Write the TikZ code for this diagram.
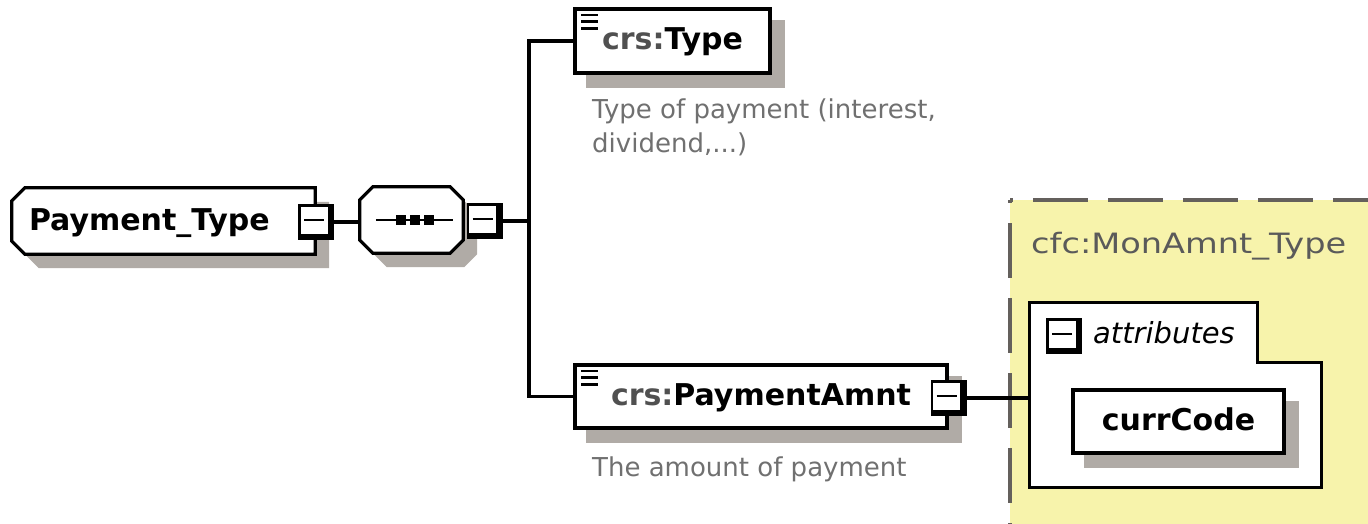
\documentclass[tikz,border=0pt]{standalone}
\usepackage{fontspec}
\setmainfont{DejaVu Sans}
\usetikzlibrary{calc}
\definecolor{shgray}{RGB}{176,171,166}
\definecolor{ybg}{RGB}{247,243,171}
\definecolor{dashgray}{RGB}{100,96,92}
\definecolor{descgray}{RGB}{112,112,112}
\definecolor{prefgray}{RGB}{80,80,80}
\definecolor{typegray}{RGB}{90,90,90}
\pgfdeclarelayer{back}
\pgfdeclarelayer{attrl}
\pgfdeclarelayer{shade}
\pgfdeclarelayer{outl}
\pgfsetlayers{back,attrl,shade,outl,main}
\tikzset{
  lbl/.style={font=\fontsize{30}{36}\selectfont\bfseries, text height=24pt, text depth=6pt, inner sep=0pt},
  boxline/.style={draw=black, line width=3.3pt, fill=white},
  elembox/.style={lbl, rectangle, boxline},
  conn/.style={draw=black, line width=3.2pt},
  dashline/.style={draw=dashgray, line width=3.2pt, dash pattern=on 55pt off 20pt, dash phase=52pt},
  desc/.style={font=\fontsize{26}{34}\selectfont, text=descgray, inner sep=0pt, align=left},
  iconlines/.style={path picture={
    \foreach \d in {6,12.7,19.4}{
      \draw[line width=2.6pt] ([xshift=6pt,yshift=-\d pt]path picture bounding box.north west) -- ++(17,0);}
  }},
  minusbox/.style={rectangle, fill=black, minimum size=36pt, inner sep=0pt, path picture={
    \fill[white] ([xshift=2.5pt,yshift=-2.5pt]path picture bounding box.north west) rectangle ([xshift=-6.5pt,yshift=6.5pt]path picture bounding box.south east);
    \draw[line width=2.8pt] ([xshift=6pt,yshift=-16pt]path picture bounding box.north west) -- ([xshift=-10pt,yshift=-16pt]path picture bounding box.north east);
  }}
}
\begin{document}
\begin{tikzpicture}[x=1pt,y=-1pt]
\useasboundingbox (0,0) rectangle (1368,524);

% background and yellow complex type area
\begin{pgfonlayer}{back}
  \clip (0,0) rectangle (1368,524);
  \fill[white] (0,0) rectangle (1368,524);
  \fill[ybg] (1010,200) rectangle (1400,560);
  \draw[dashline] (1010,200) -- (1400,200);
  \draw[dashline] (1010,200) -- (1010,560);
\end{pgfonlayer}

% Payment_Type
\node[lbl, minimum width=303pt, minimum height=66pt, text width=269pt, inner xsep=17pt, align=left] (pt) at (163.5,221) {Payment\_Type};
\begin{pgfonlayer}{outl}
  \filldraw[boxline] ($(pt.north west)+(13,0)$) -- (pt.north east) -- (pt.south east) -- ($(pt.south west)+(13,0)$) -- ($(pt.south west)+(0,-13)$) -- ($(pt.north west)+(0,13)$) -- cycle;
\end{pgfonlayer}
\begin{pgfonlayer}{shade}
  \fill[shgray] ($(pt.north west)+(27,14)$) -- ($(pt.north east)+(14,14)$) -- ($(pt.south east)+(14,14)$) -- ($(pt.south west)+(27,14)$) -- ($(pt.south west)+(14,1)$) -- ($(pt.north west)+(14,27)$) -- cycle;
\end{pgfonlayer}

% sequence compositor
\node[minimum width=103pt, minimum height=66pt, inner sep=0pt] (seq) at (411.5,220) {};
\begin{pgfonlayer}{outl}
  \filldraw[boxline] ($(seq.north west)+(13,0)$) -- ($(seq.north east)+(-13,0)$) -- ($(seq.north east)+(0,13)$) -- ($(seq.south east)+(0,-13)$) -- ($(seq.south east)+(-13,0)$) -- ($(seq.south west)+(13,0)$) -- ($(seq.south west)+(0,-13)$) -- ($(seq.north west)+(0,13)$) -- cycle;
\end{pgfonlayer}
\begin{pgfonlayer}{shade}
  \fill[shgray] ($(seq.north west)+(27,14)$) -- ($(seq.north east)+(1,14)$) -- ($(seq.north east)+(14,27)$) -- ($(seq.south east)+(14,1)$) -- ($(seq.south east)+(1,14)$) -- ($(seq.south west)+(27,14)$) -- ($(seq.south west)+(14,1)$) -- ($(seq.north west)+(14,27)$) -- cycle;
\end{pgfonlayer}
\draw[line width=2.8pt] ($(seq.west)+(16,0)$) -- ($(seq.east)+(-10,0)$);
\foreach \o in {-10.5,3,17.5}{
  \fill ($(seq.center)+(\o,0)+(-5,-5)$) rectangle ++(10,10);
}

% minus boxes
\node[minusbox] (ptm) at (316,222) {};
\node[minusbox] (seqm) at (484.5,221) {};

% child elements
\node[elembox, iconlines, minimum width=195pt, minimum height=64pt] (type) at (672.5,41) {{\color{prefgray}crs:}Type};
\node[elembox, iconlines, minimum width=372pt, minimum height=63pt] (amnt) at (761,396.5) {{\color{prefgray}crs:}PaymentAmnt};
\node[minusbox] (amntm) at (948.5,398) {};
\begin{pgfonlayer}{shade}
  \fill[shgray] ($(type.north west)+(13,13)$) rectangle ($(type.south east)+(13,13)$);
  \fill[shgray] ($(amnt.north west)+(13,13)$) rectangle ($(amnt.south east)+(13,13)$);
\end{pgfonlayer}

% descriptions
\node[desc, anchor=north west] (typedesc) at (592,98.5) {Type of payment (interest,\\dividend,...)};
\node[desc, anchor=base west] (amntdesc) at (592,476) {The amount of payment};

% complex type
\node[font=\fontsize{28}{34}\selectfont, text=typegray, anchor=base west, inner sep=0pt] (cfc) at (1031,253) {\scalebox{1.2}[1]{cfc:MonAmnt\_Type}};
\node[minimum width=291pt, minimum height=184pt, inner sep=0pt] (attr) at (1175.5,395) {};
\begin{pgfonlayer}{attrl}
  \filldraw[draw=black, line width=3pt, fill=white] (attr.north west) -- ($(attr.north west)+(228,0)$) -- ($(attr.north west)+(228,60)$) -- ($(attr.north east)+(0,60)$) -- (attr.south east) -- (attr.south west) -- cycle;
\end{pgfonlayer}
\node[minusbox] (attrm) at (1064,336) {};
\node[font=\fontsize{29}{34}\selectfont\itshape, anchor=base west, inner sep=0pt] (attrtxt) at (1093,343) {attributes};
\node[elembox, minimum width=211pt, minimum height=63pt] (cc) at (1178.5,421.5) {currCode};
\begin{pgfonlayer}{shade}
  \fill[shgray] ($(cc.north west)+(13,13)$) rectangle ($(cc.south east)+(13,13)$);
\end{pgfonlayer}

% connectors
\coordinate (j) at (529,221);
\draw[conn] (ptm.east) -- (ptm.east -| seq.west);
\draw[conn] (seqm.east) -- (j);
\draw[conn] (type.west) -| (j) |- (amnt.west);
\draw[conn] (amntm.east) -- (amntm.east -| attr.west);
\end{tikzpicture}
\end{document}
